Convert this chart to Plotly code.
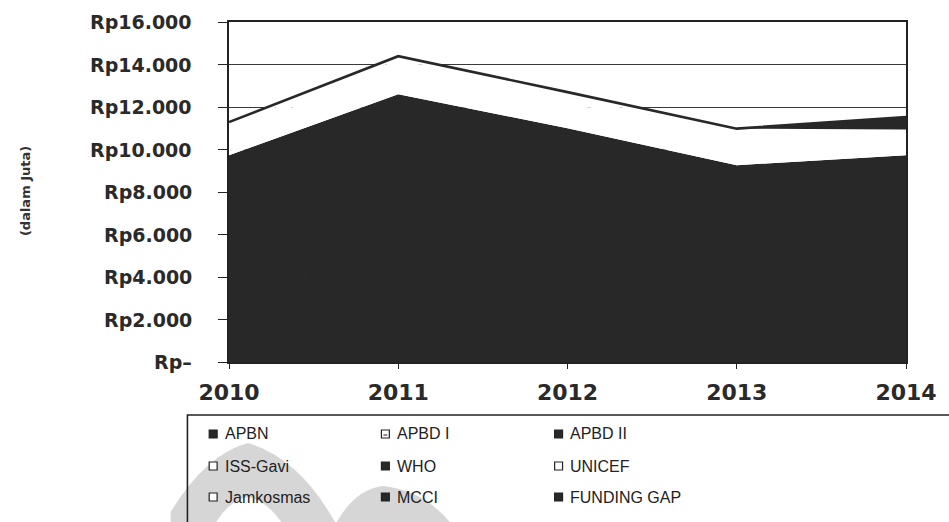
import plotly.graph_objects as go

# ---- data (Rp, dalam juta) ----
years = [2010, 2011, 2012, 2013, 2014]
apbn = [3050, 5050, 3600, 1800, 2300]
apbd_1 = [0, 0, 0, 0, 0]
apbd_2 = [6680, 7550, 7400, 7460, 7430]
iss_gavi = [1100, 1300, 1200, 1200, 700]
who = [0, 0, 0, 0, 0]
unicef = [300, 320, 320, 340, 330]
jamkosmas = [160, 170, 180, 180, 180]
mcci = [0, 0, 0, 0, 0]
funding_gap = [0, 0, 0, 0, 590]

year_labels = ["2010", "2011", "2012", "2013", "2014"]
y_tick_values = [0, 2000, 4000, 6000, 8000, 10000, 12000, 14000, 16000]
y_tick_labels = ["Rp–", "Rp2.000", "Rp4.000", "Rp6.000", "Rp8.000",
                 "Rp10.000", "Rp12.000", "Rp14.000", "Rp16.000"]

series_names = ["APBN", "APBD I", "APBD II", "ISS-Gavi", "WHO", "UNICEF",
                "Jamkosmas", "MCCI", "FUNDING GAP"]
series_values = [apbn, apbd_1, apbd_2, iss_gavi, who, unicef,
                 jamkosmas, mcci, funding_gap]
# legend swatch style; "pattern" is the hatched APBD I swatch (dark fill in the plot)
series_styles = ["dark", "pattern", "dark", "light", "dark", "light",
                 "light", "dark", "dark"]

DARK = "#282828"
INK = "#222222"
LABEL = "#2a2a2a"
WATERMARK = "#d6d6d6"

# plot-area geometry in pixels
W_FIG, H_FIG = 949, 522
M_L, M_R, M_T, M_B = 229, 36, 22, 160
PW = W_FIG - M_L - M_R
PH = H_FIG - M_T - M_B


def px_x(x):
    return (x - M_L) / PW


def px_y(y):
    return (H_FIG - M_B - y) / PH


def paper_path(points_cmds):
    """Build an SVG path in paper coordinates from pixel-space commands."""
    out = []
    for cmd, *pts in points_cmds:
        coords = " ".join(f"{px_x(x):.5f},{px_y(y):.5f}" for x, y in pts)
        out.append(f"{cmd} {coords}".strip())
    return " ".join(out)


fig = go.Figure()

# layers whose upper edge sits inside the solid dark block get a dark
# outline so the joins between same-coloured fills do not show
inner_dark = {"APBN", "APBD I"}

for i, (name, vals, style) in enumerate(zip(series_names, series_values, series_styles)):
    fill = "#ffffff" if style == "light" else DARK
    if i == len(series_names) - 1:
        line = dict(color=DARK, width=2.6)
    elif name in inner_dark:
        line = dict(color=DARK, width=1)
    else:
        line = dict(color=fill, width=0)
    fig.add_trace(go.Scatter(
        x=years, y=vals, name=name, stackgroup="dana", mode="lines",
        fillcolor=fill, line=line, showlegend=False,
    ))

shapes = []

# faint logo watermark behind the legend box
shapes.append(dict(type="path", xref="paper", yref="paper", layer="below",
                   fillcolor=WATERMARK, line=dict(width=0),
                   path=paper_path([("M", (170, 512)), ("Q", (205, 455), (248, 443)),
                                    ("Q", (300, 458), (336, 522)), ("L", (170, 522)), ("Z",)])))
shapes.append(dict(type="path", xref="paper", yref="paper", layer="below",
                   fillcolor="#ffffff", line=dict(width=0),
                   path=paper_path([("M", (216, 522)), ("Q", (230, 500), (248, 497)),
                                    ("Q", (266, 500), (282, 522)), ("Z",)])))
shapes.append(dict(type="path", xref="paper", yref="paper", layer="below",
                   fillcolor=WATERMARK, line=dict(width=0),
                   path=paper_path([("M", (338, 522)), ("Q", (356, 490), (384, 486)),
                                    ("Q", (425, 490), (452, 522)), ("Z",)])))

# ---- legend drawn as a boxed 3-column grid ----
shapes.append(dict(type="rect", xref="paper", yref="paper",
                   x0=px_x(187), x1=px_x(1000), y0=px_y(415), y1=px_y(600),
                   line=dict(color=INK, width=1.6), fillcolor="rgba(0,0,0,0)",
                   layer="below"))
annotations = []
col_x = [213, 387, 562]
row_y = [434, 466, 497]
for k, (name, style) in enumerate(zip(series_names, series_styles)):
    cx, cy = col_x[k % 3], row_y[k // 3]
    sq = 4
    shapes.append(dict(
        type="rect", xref="paper", yref="paper",
        x0=px_x(cx - sq), x1=px_x(cx + sq), y0=px_y(cy + sq), y1=px_y(cy - sq),
        line=dict(color=INK, width=1.2),
        fillcolor=DARK if style == "dark" else "#ffffff",
    ))
    if style == "pattern":
        shapes.append(dict(
            type="line", xref="paper", yref="paper",
            x0=px_x(cx - 2), x1=px_x(cx + 2), y0=px_y(cy + 1), y1=px_y(cy + 1),
            line=dict(color=INK, width=1),
        ))
    annotations.append(dict(
        text=name, xref="paper", yref="paper", x=px_x(cx + 10), y=px_y(cy),
        xanchor="left", yanchor="middle", showarrow=False,
        font=dict(family="Liberation Sans, Arial, sans-serif", size=16, color=INK),
    ))

# y tick labels, right-aligned at a fixed distance from the axis
for val, lab in zip(y_tick_values, y_tick_labels):
    annotations.append(dict(
        text=lab, xref="paper", yref="y", x=px_x(194), y=val,
        xanchor="right", yanchor="middle", showarrow=False,
        font=dict(family="DejaVu Sans, sans-serif", size=19, color=LABEL, weight="bold"),
    ))

annotations.append(dict(
    text="(dalam Juta)", xref="paper", yref="paper",
    x=px_x(23), y=px_y(191), textangle=-90, showarrow=False,
    xanchor="center", yanchor="middle",
    font=dict(family="DejaVu Sans, sans-serif", size=13, color="#333333", weight="bold"),
))

fig.update_layout(
    width=W_FIG, height=H_FIG,
    margin=dict(l=M_L, r=M_R, t=M_T, b=M_B),
    paper_bgcolor="#ffffff", plot_bgcolor="#ffffff",
    showlegend=False,
    shapes=shapes, annotations=annotations,
)

fig.update_xaxes(
    type="linear", range=[2010, 2014],
    tickvals=years, ticktext=year_labels,
    ticks="outside", ticklen=5, tickcolor=INK, tickwidth=1.2,
    showgrid=False, zeroline=False,
    showline=True, linecolor=INK, linewidth=1.5, mirror=True,
    ticklabelstandoff=5,
    tickfont=dict(family="DejaVu Sans, sans-serif", size=22, color=LABEL, weight="bold"),
)
fig.update_yaxes(
    range=[0, 16000],
    tickvals=y_tick_values, showticklabels=False,
    ticks="outside", ticklen=9, tickcolor=INK, tickwidth=1.2,
    showgrid=True, gridcolor="#3a3a3a", gridwidth=1.2, zeroline=False,
    showline=True, linecolor=INK, linewidth=1.5, mirror=True,
)

fig.write_html("out.html")
